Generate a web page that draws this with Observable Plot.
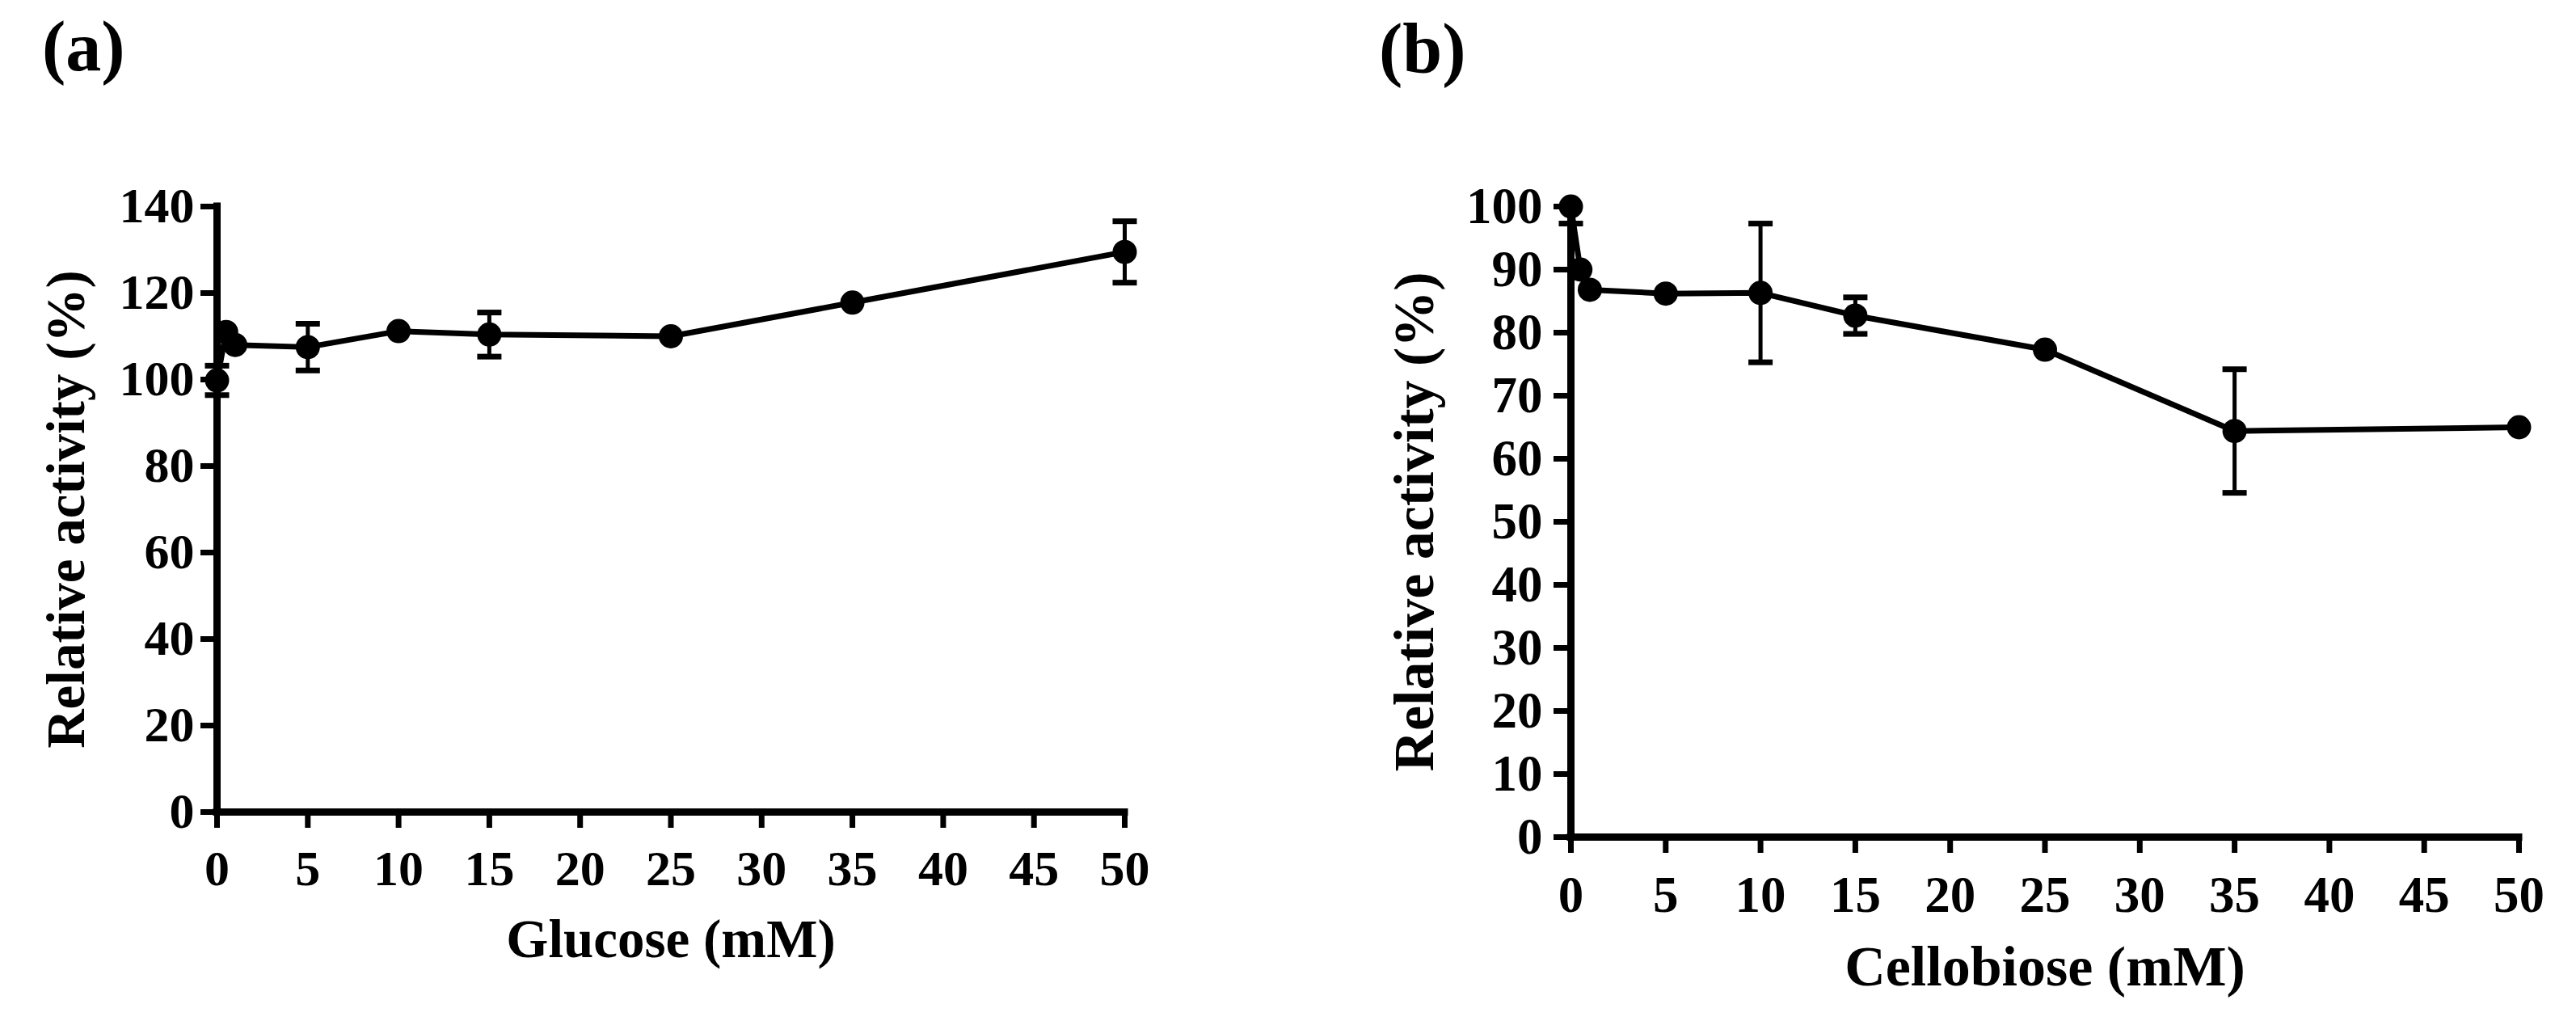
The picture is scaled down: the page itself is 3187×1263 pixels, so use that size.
<!DOCTYPE html>
<html>
<head>
<meta charset="utf-8">
<script src="https://cdn.jsdelivr.net/npm/d3@7"></script>
<script src="https://cdn.jsdelivr.net/npm/@observablehq/plot@0.6"></script>
<style>
  html, body { margin: 0; padding: 0; background: white; }
  #root { position: relative; width: 3187px; height: 1263px; overflow: hidden; background: white; }
  .panel { position: absolute; top: 0; z-index: 1; }
  .panel svg { max-width: none !important; }
  .tag { position: absolute; z-index: 5; font-family: "Liberation Serif", "Times New Roman", serif; font-weight: bold; font-size: 88px; line-height: 88px; color: black; }
</style>
</head>
<body>
<div id="root">
  <div class="panel" id="pa" style="left:0px; width:1600px;"></div>
  <div class="panel" id="pb" style="left:1600px; width:1587px;"></div>
  <div class="tag" style="left:52px; top:14px;">(a)</div>
  <div class="tag" style="left:1706px; top:17px;">(b)</div>
</div>
<script>
// ---- data ----
const concentrations = [0, 0.5, 1, 5, 10, 15, 25, 35, 50];
const glucoseActivity = [99.8, 111, 108, 107.5, 111.2, 110.4, 110, 117.8, 129.5];
const glucoseError    = [3.4, 0, 0, 5.4, 0, 5.1, 0, 0, 7.1];
const cellobioseActivity = [100, 90, 86.8, 86.2, 86.3, 82.7, 77.3, 64.4, 65.0];
const cellobioseError    = [2.7, 0, 0, 0, 11, 2.9, 0, 9.8, 0];
const xTicks = [0, 5, 10, 15, 20, 25, 30, 35, 40, 45, 50];
const yTicksA = [0, 20, 40, 60, 80, 100, 120, 140];
const yTicksB = [0, 10, 20, 30, 40, 50, 60, 70, 80, 90, 100];
const xTitleA = "Glucose (mM)";
const xTitleB = "Cellobiose (mM)";
const yTitle = "Relative activity (%)";

const FONT = "'Liberation Serif', 'Times New Roman', serif";

const capSymbol = {
  draw(context, size) {
    const w = Math.sqrt(size / Math.PI);
    context.moveTo(-w, 0);
    context.lineTo(w, 0);
  }
};

function makePanel(opts) {
  const ymax = opts.ydomain[1];
  const data = concentrations.map((x, i) => ({x, y: opts.y[i], e: opts.err[i]}));
  const errData = data.filter(d => d.e > 0);
  const upperCaps = errData.filter(d => d.y + d.e <= ymax);
  return Plot.plot({
    width: opts.width,
    height: 1263,
    marginLeft: opts.ml,
    marginRight: opts.mr,
    marginTop: 255,
    marginBottom: opts.mb,
    x: {domain: [0, 50]},
    y: {domain: opts.ydomain},
    style: {fontFamily: FONT, fontWeight: "bold", background: "transparent", overflow: "visible", color: "black"},
    marks: [
      Plot.ruleX(errData, {x: "x", y1: d => d.y - d.e, y2: d => Math.min(ymax, d.y + d.e), stroke: "black", strokeWidth: 5}),
      Plot.dot(upperCaps, {x: "x", y: d => d.y + d.e, symbol: capSymbol, r: 15, fill: "none", stroke: "black", strokeWidth: 7}),
      Plot.dot(errData, {x: "x", y: d => d.y - d.e, symbol: capSymbol, r: 15, fill: "none", stroke: "black", strokeWidth: 7}),
      Plot.line(data, {x: "x", y: "y", stroke: "black", strokeWidth: 7}),
      Plot.dot(data, {x: "x", y: "y", r: 15, fill: "black", stroke: "none"}),
      Plot.ruleX([0], {stroke: "black", strokeWidth: 9, strokeLinecap: "square"}),
      Plot.ruleY([0], {stroke: "black", strokeWidth: 9, strokeLinecap: "square"}),
      Plot.axisX({ticks: xTicks, tickSize: 20, tickPadding: opts.xpad, stroke: "black", strokeWidth: 7,
        fontSize: opts.tickFont, fontWeight: "bold", fontFamily: FONT, fill: "black", label: null}),
      Plot.axisY({ticks: opts.yticks, tickSize: opts.ytick, tickPadding: opts.ypad, stroke: "black", strokeWidth: 7,
        fontSize: opts.tickFont, fontWeight: "bold", fontFamily: FONT, fill: "black", label: null}),
      Plot.text([opts.xtitle], {text: d => d, frameAnchor: "bottom", textAnchor: "middle", lineAnchor: "middle",
        dy: opts.xtdy, fontSize: opts.titleFont, fontWeight: "bold", fontFamily: FONT, fill: "black"}),
      Plot.text([yTitle], {text: d => d, frameAnchor: "left", textAnchor: "middle", lineAnchor: "middle",
        rotate: -90, dx: opts.ytdx, fontSize: opts.titleFont, fontWeight: "bold", fontFamily: FONT, fill: "black"})
    ]
  });
}

document.getElementById("pa").appendChild(makePanel({
  width: 1600, ml: 268, mr: 209, mb: 259, ydomain: [0, 140], yticks: yTicksA,
  y: glucoseActivity, err: glucoseError, xpad: 26, ytick: 20, ypad: 8,
  tickFont: 62, titleFont: 67, xtitle: xTitleA, xtdy: 158, ytdx: -186
}));
document.getElementById("pb").appendChild(makePanel({
  width: 1587, ml: 343, mr: 71, mb: 228, ydomain: [0, 100], yticks: yTicksB,
  y: cellobioseActivity, err: cellobioseError, xpad: 28, ytick: 21, ypad: 14,
  tickFont: 63, titleFont: 70, xtitle: xTitleB, xtdy: 161, ytdx: -193
}));
</script>
</body>
</html>
